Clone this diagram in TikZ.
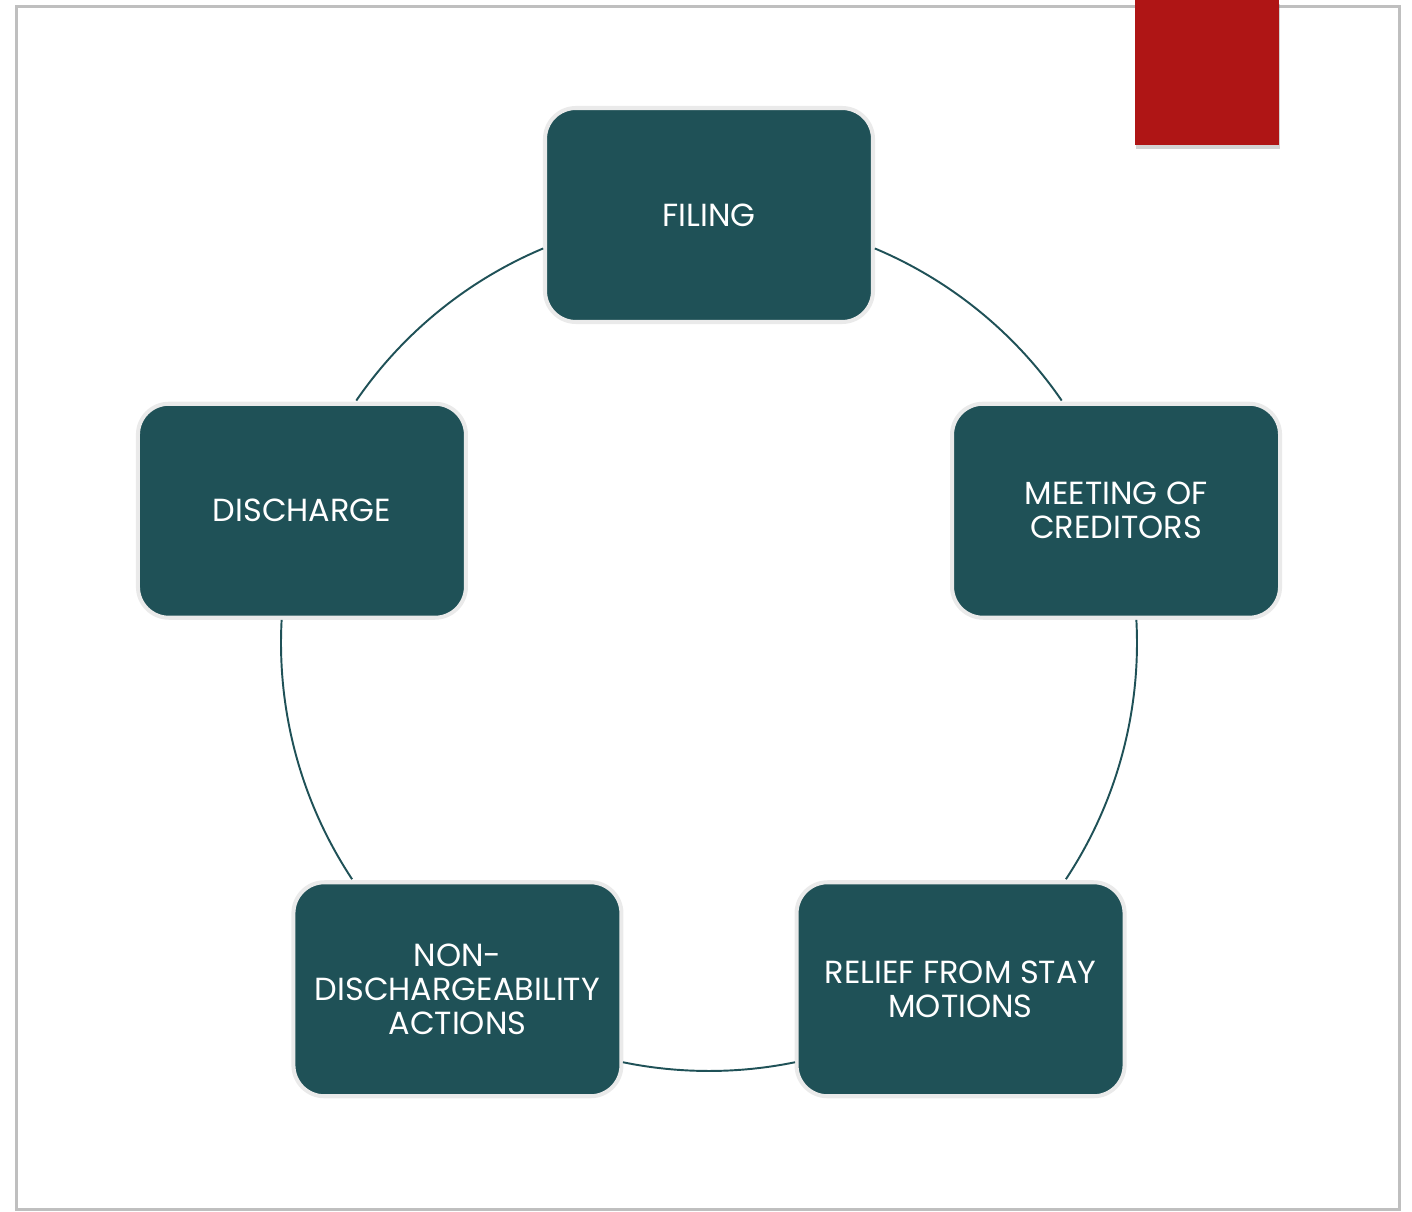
\documentclass[tikz,border=0pt]{standalone}
\usepackage{fontspec}
\setmainfont{Poppins}
\usepackage{tikz}
\usetikzlibrary{shadows}

\definecolor{stepteal}{HTML}{1F5157}
\definecolor{stepgray}{HTML}{EAEAEA}
\definecolor{tabred}{HTML}{AF1515}

\begin{document}
\begin{tikzpicture}[
        stage/.style={draw=stepgray, line width=2.3pt, fill=stepteal, rounded corners=0.62cm,
            minimum width=6.56cm, minimum height=4.28cm, inner sep=0pt,
            text=white, align=center, font=\fontsize{18.2}{19.4}\selectfont},
        link/.style={draw=stepteal, line width=1.1pt}]

        \useasboundingbox (-14.18,-11.36) rectangle (14.06,12.86);
        \draw[black!25, line width=1.7pt] (-13.84,-11.32) rectangle (13.80,12.72);
        \fill[tabred, drop shadow={shadow xshift=0.6pt, shadow yshift=-2.2pt, opacity=0.35}]
            (8.52,9.96) rectangle (11.40,12.86);

        \coordinate (O) at (0,0);

        \node[stage] (Filing) at (90:8.56) {FILING};
        \node[stage] (Meeting) at (18:8.56) {MEETING OF\\CREDITORS};
        \node[stage] (Relief) at (-54:8.56) {RELIEF FROM STAY\\MOTIONS};
        \node[stage] (NonDis) at (-126:8.56) {NON-\\DISCHARGEABILITY\\ACTIONS};
        \node[stage] (Discharge) at (162:8.56) {DISCHARGE};

        \draw[link] (O) ++(67.2:8.56) arc[start angle=67.2, end angle=34.5, radius=8.56];
        \draw[link] (O) ++(3.1:8.56) arc[start angle=3.1, end angle=-33.5, radius=8.56];
        \draw[link] (O) ++(-78.4:8.56) arc[start angle=-78.4, end angle=-101.6, radius=8.56];
        \draw[link] (O) ++(-146.5:8.56) arc[start angle=-146.5, end angle=-183.1, radius=8.56];
        \draw[link] (O) ++(145.5:8.56) arc[start angle=145.5, end angle=112.8, radius=8.56];

    \end{tikzpicture}
\end{document}
